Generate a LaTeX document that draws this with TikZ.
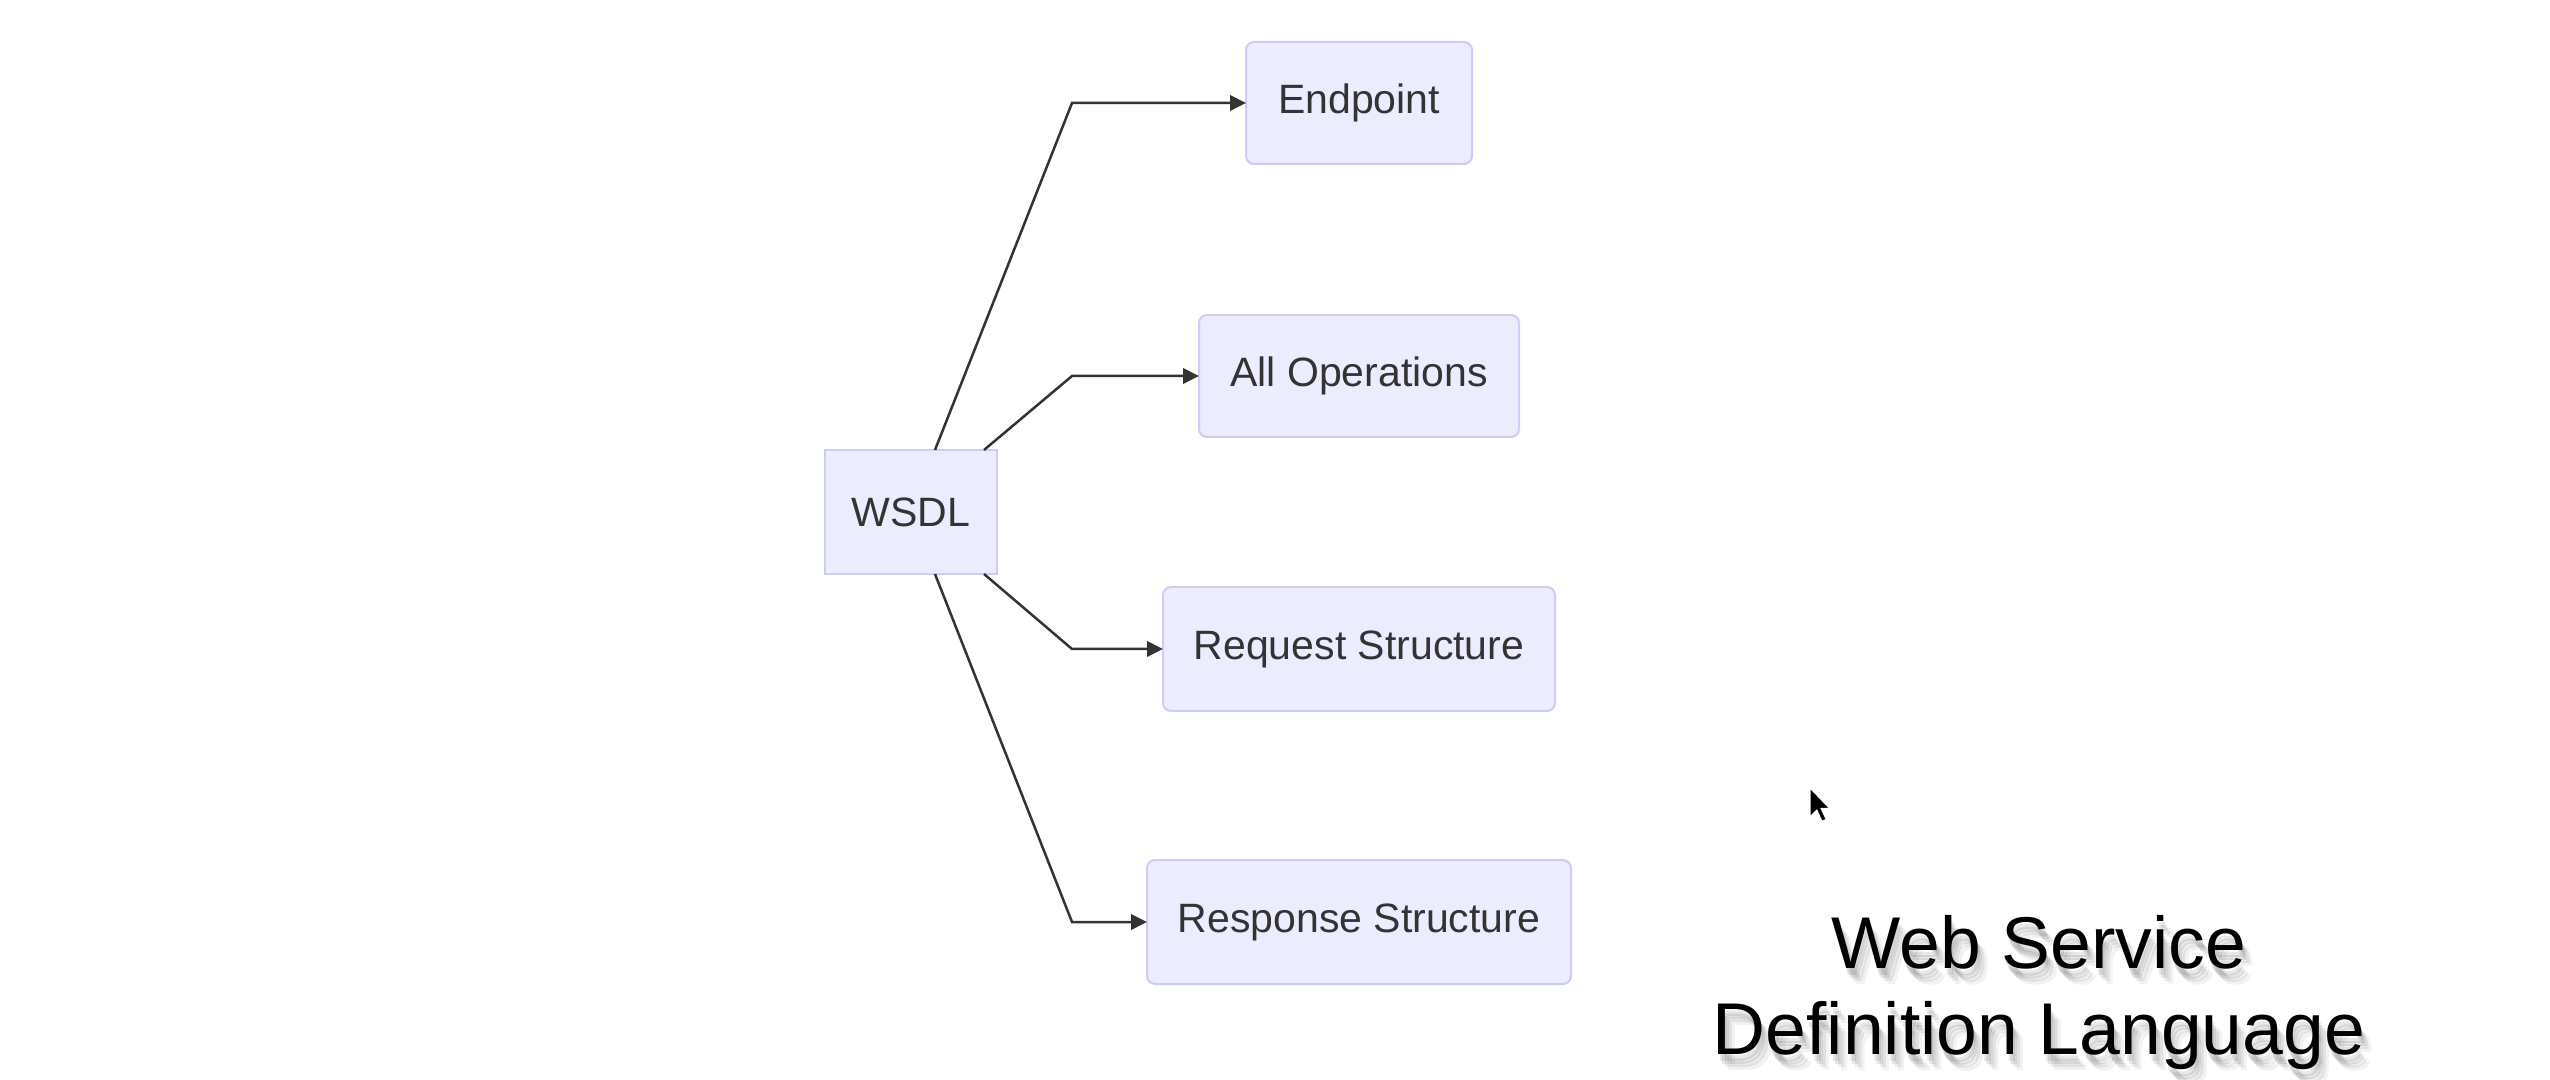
\documentclass[tikz,border=0pt]{standalone}
\usepackage{fontspec}
\setmainfont{Liberation Sans}
\usetikzlibrary{arrows.meta}
\definecolor{boxfill}{HTML}{ECECFF}
\definecolor{boxline}{HTML}{CCCCF6}
\definecolor{linecol}{HTML}{333333}
\begin{document}
\begin{tikzpicture}[x=0.3pt,y=-0.3pt,
  basebox/.style={draw=boxline,fill=boxfill,line width=0.6pt,inner sep=0pt,outer sep=0pt,
    text=linecol,font=\fontsize{12.3}{14}\selectfont},
  rootbox/.style={basebox},
  leafbox/.style={basebox,rounded corners=2.4pt},
  conn/.style={draw=linecol,line width=0.75pt,-{Triangle[length=4.8pt,width=4.6pt]}},
  title/.style={anchor=base,font=\fontsize{22}{26}\selectfont},
  shadowtext/.style={title,text=black}]
\useasboundingbox[fill=white] (0,0) rectangle (2550,1080);

\node[rootbox,minimum width=51.6pt,minimum height=37.2pt] (w) at (911,512) {WSDL};
\node[leafbox,minimum width=67.8pt,minimum height=36.6pt] (ep) at (1359,103) {Endpoint};
\node[leafbox,minimum width=96pt,minimum height=36.6pt] (ops) at (1359,376) {All Operations};
\node[leafbox,minimum width=117.6pt,minimum height=37.2pt] (req) at (1359,649) {Request Structure};
\node[leafbox,minimum width=127.2pt,minimum height=37.2pt] (res) at (1359,922) {Response Structure};

\coordinate (b1) at (1072,103);
\coordinate (b2) at (1072,376);
\coordinate (b3) at (1072,649);
\coordinate (b4) at (1072,922);

\draw[conn] ([xshift=7.2pt]w.north) -- (b1) -- (ep.west);
\draw[conn] ([xshift=21.9pt]w.north) -- (b2) -- (ops.west);
\draw[conn] ([xshift=21.9pt]w.south) -- (b3) -- (req.west);
\draw[conn] ([xshift=7.2pt]w.south) -- (b4) -- (res.west);

% soft drop shadow of the title
\foreach \dx/\dy/\op in {4/10/0.09,7/13/0.07,2/7/0.09,10/16/0.05}{
  \node[shadowtext,opacity=\op] at (2039+\dx,968+\dy) {Web Service};
  \node[shadowtext,opacity=\op] at (2039+\dx,1054+\dy) {Definition Language};
}
\node[title] (t1) at (2039,968) {Web Service};
\node[title] (t2) at (2039,1054) {Definition Language};

% mouse cursor
\fill[black,draw=white,line width=0.3pt,shift={(1810,788)},scale=1.7]
  (0,0) -- (0,17) -- (4,13) -- (7,19.5) -- (9.5,18.5) -- (6.5,12) -- (11.5,12) -- cycle;
\end{tikzpicture}
\end{document}
